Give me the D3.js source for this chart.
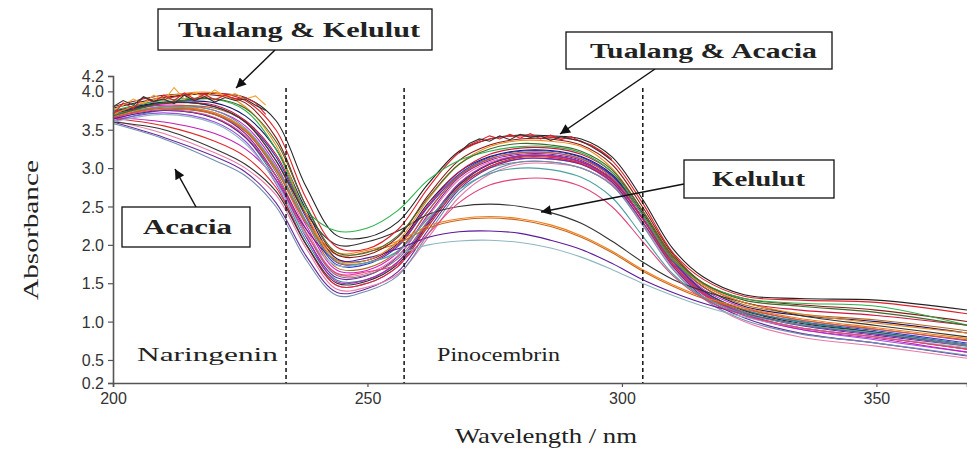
<!DOCTYPE html>
<html>
<head>
<meta charset="utf-8">
<script src="https://cdn.jsdelivr.net/npm/d3@7"></script>
<style>
  body { margin: 0; background: #fff; }
  .serif { font-family: 'Liberation Serif', 'Times New Roman', serif; }
  .sans { font-family: 'Liberation Sans', Arial, sans-serif; }
</style>
</head>
<body>
<div id="container"></div>
<script>
let w = 967;
let h = 457;

// wavelength grid (nm) that all spectra are sampled on
let wavelengths = [200, 210, 220, 226, 232, 238, 244, 250, 256, 262, 268, 274, 280, 286, 292, 298, 304, 310, 316, 324, 335, 350, 368];

// tualang-like spectra, high plateau and late drop
let highSpectra = [
  [3.78, 3.92, 3.97, 3.92, 3.62, 2.75, 2.12, 2.10, 2.30, 2.80, 3.22, 3.38, 3.43, 3.42, 3.38, 3.15, 2.60, 1.95, 1.58, 1.35, 1.30, 1.28, 1.15],
  [3.72, 3.90, 3.98, 3.88, 3.50, 2.60, 1.97, 1.95, 2.20, 2.75, 3.20, 3.38, 3.42, 3.40, 3.35, 3.10, 2.55, 1.90, 1.55, 1.33, 1.28, 1.25, 1.10],
  [3.80, 3.95, 3.95, 3.85, 3.40, 2.50, 1.87, 1.87, 2.10, 2.65, 3.10, 3.30, 3.38, 3.38, 3.30, 3.05, 2.50, 1.88, 1.50, 1.30, 1.22, 1.15, 1.00],
  [3.70, 3.93, 3.98, 3.80, 3.30, 2.40, 1.80, 1.80, 2.05, 2.60, 3.05, 3.28, 3.36, 3.35, 3.28, 3.00, 2.45, 1.85, 1.48, 1.25, 1.10, 0.98, 0.85],
  [3.75, 3.88, 3.90, 3.75, 3.25, 2.45, 2.18, 2.22, 2.45, 2.85, 3.10, 3.22, 3.28, 3.28, 3.20, 2.95, 2.40, 1.80, 1.50, 1.30, 1.24, 1.20, 0.95],
  [3.68, 3.85, 3.90, 3.78, 3.35, 2.50, 1.90, 1.90, 2.12, 2.62, 3.05, 3.25, 3.32, 3.30, 3.22, 2.98, 2.45, 1.85, 1.50, 1.28, 1.20, 1.12, 0.95]
];

// the big middle bundle
let midSpectra = [
  [3.70, 3.82, 3.75, 3.55, 3.05, 2.25, 1.67, 1.67, 1.90, 2.45, 2.90, 3.12, 3.20, 3.20, 3.12, 2.90, 2.40, 1.80, 1.42, 1.18, 1.02, 0.90, 0.75],
  [3.65, 3.80, 3.70, 3.45, 2.90, 2.10, 1.57, 1.60, 1.85, 2.40, 2.88, 3.10, 3.18, 3.18, 3.10, 2.85, 2.35, 1.75, 1.38, 1.12, 0.95, 0.82, 0.68],
  [3.72, 3.85, 3.80, 3.60, 3.15, 2.35, 1.74, 1.75, 1.98, 2.50, 2.92, 3.14, 3.22, 3.22, 3.14, 2.90, 2.40, 1.80, 1.40, 1.15, 1.00, 0.88, 0.72],
  [3.60, 3.75, 3.65, 3.40, 2.85, 2.05, 1.54, 1.55, 1.78, 2.30, 2.80, 3.05, 3.15, 3.16, 3.08, 2.85, 2.35, 1.78, 1.40, 1.15, 1.00, 0.86, 0.70],
  [3.68, 3.78, 3.72, 3.50, 3.00, 2.20, 1.62, 1.63, 1.86, 2.38, 2.85, 3.08, 3.16, 3.15, 3.06, 2.80, 2.30, 1.72, 1.35, 1.10, 0.92, 0.80, 0.64],
  [3.74, 3.86, 3.85, 3.68, 3.25, 2.45, 1.82, 1.80, 2.02, 2.55, 2.95, 3.15, 3.23, 3.23, 3.15, 2.92, 2.42, 1.82, 1.45, 1.20, 1.08, 1.00, 0.85],
  [3.66, 3.80, 3.78, 3.60, 3.10, 2.30, 1.70, 1.70, 1.92, 2.45, 2.90, 3.12, 3.20, 3.20, 3.12, 2.88, 2.40, 1.82, 1.45, 1.22, 1.10, 1.02, 0.88],
  [3.62, 3.72, 3.60, 3.35, 2.80, 2.00, 1.47, 1.50, 1.72, 2.25, 2.75, 3.02, 3.12, 3.12, 3.05, 2.82, 2.30, 1.72, 1.35, 1.08, 0.90, 0.76, 0.60],
  [3.70, 3.84, 3.82, 3.62, 3.18, 2.38, 1.77, 1.77, 2.00, 2.52, 2.95, 3.18, 3.26, 3.26, 3.18, 2.95, 2.45, 1.85, 1.48, 1.25, 1.15, 1.08, 0.95],
  [3.64, 3.76, 3.70, 3.48, 2.95, 2.15, 1.60, 1.61, 1.82, 2.32, 2.78, 3.00, 3.08, 3.08, 3.00, 2.78, 2.30, 1.75, 1.38, 1.12, 0.96, 0.84, 0.68]
];

// acacia-like spectra, early fall on the left
let acaciaSpectra = [
  [3.60, 3.40, 3.15, 2.95, 2.55, 1.85, 1.38, 1.43, 1.65, 2.20, 2.72, 3.00, 3.12, 3.12, 3.05, 2.82, 2.30, 1.72, 1.32, 1.05, 0.85, 0.72, 0.55],
  [3.62, 3.45, 3.20, 3.00, 2.65, 1.95, 1.42, 1.45, 1.62, 2.10, 2.62, 2.92, 3.05, 3.06, 3.00, 2.78, 2.28, 1.70, 1.30, 1.00, 0.80, 0.68, 0.52],
  [3.58, 3.38, 3.10, 2.90, 2.50, 1.80, 1.34, 1.40, 1.60, 2.15, 2.68, 2.95, 3.08, 3.08, 3.00, 2.78, 2.26, 1.68, 1.30, 1.02, 0.84, 0.72, 0.56],
  [3.65, 3.55, 3.35, 3.15, 2.75, 2.00, 1.47, 1.50, 1.72, 2.25, 2.75, 3.02, 3.14, 3.14, 3.06, 2.84, 2.34, 1.75, 1.36, 1.10, 0.92, 0.80, 0.64],
  [3.60, 3.50, 3.25, 3.05, 2.70, 2.00, 1.50, 1.53, 1.75, 2.28, 2.78, 3.05, 3.16, 3.16, 3.08, 2.86, 2.36, 1.78, 1.40, 1.14, 0.98, 0.86, 0.70],
  [3.66, 3.60, 3.45, 3.25, 2.85, 2.10, 1.52, 1.55, 1.78, 2.30, 2.80, 3.06, 3.16, 3.16, 3.08, 2.86, 2.36, 1.78, 1.38, 1.10, 0.90, 0.78, 0.60]
];

// kelulut-like spectra, low and early second band
let kelulutSpectra = [
  [3.70, 3.85, 3.80, 3.60, 3.10, 2.40, 2.00, 2.04, 2.18, 2.40, 2.50, 2.53, 2.50, 2.42, 2.28, 2.05, 1.78, 1.55, 1.40, 1.25, 1.08, 0.95, 0.80],
  [3.68, 3.80, 3.72, 3.50, 3.00, 2.30, 1.90, 1.93, 2.05, 2.25, 2.34, 2.37, 2.34, 2.26, 2.12, 1.92, 1.68, 1.48, 1.32, 1.18, 1.04, 0.92, 0.78],
  [3.66, 3.78, 3.70, 3.48, 2.98, 2.28, 1.87, 1.91, 2.02, 2.22, 2.32, 2.35, 2.32, 2.24, 2.10, 1.90, 1.66, 1.46, 1.30, 1.16, 1.02, 0.90, 0.76],
  [3.64, 3.75, 3.65, 3.40, 2.90, 2.20, 1.80, 1.83, 1.95, 2.10, 2.17, 2.18, 2.15, 2.06, 1.94, 1.76, 1.55, 1.38, 1.24, 1.10, 0.96, 0.84, 0.70],
  [3.60, 3.70, 3.58, 3.32, 2.82, 2.12, 1.73, 1.77, 1.88, 2.00, 2.05, 2.06, 2.03, 1.96, 1.84, 1.68, 1.50, 1.34, 1.20, 1.06, 0.92, 0.80, 0.66],
  [3.66, 3.76, 3.66, 3.42, 2.90, 2.15, 1.63, 1.65, 1.75, 2.15, 2.55, 2.78, 2.86, 2.86, 2.76, 2.50, 2.05, 1.60, 1.30, 1.08, 0.92, 0.80, 0.64],
  [3.70, 3.80, 3.75, 3.52, 3.02, 2.30, 1.78, 1.77, 1.92, 2.35, 2.72, 2.93, 3.00, 2.98, 2.88, 2.62, 2.12, 1.62, 1.32, 1.10, 0.96, 0.85, 0.70]
];

// noisy top edge of the two bands, sampled every 2 nm
let plateauWl = [200, 202, 204, 206, 208, 210, 212, 214, 216, 218, 220, 222, 224, 226, 228, 230];
let plateauNoise = [
  [3.76, 3.82, 3.90, 3.84, 3.95, 3.88, 4.05, 3.90, 3.98, 3.92, 4.02, 3.93, 3.97, 3.90, 3.94, 3.82],
  [3.70, 3.85, 3.78, 3.92, 3.86, 3.95, 3.88, 3.98, 3.90, 3.96, 3.89, 3.95, 3.90, 3.92, 3.85, 3.70],
  [3.80, 3.88, 3.82, 3.93, 3.87, 3.90, 3.84, 3.95, 3.88, 3.93, 3.86, 3.92, 3.88, 3.90, 3.82, 3.75]
];
let peakWl = [268, 270, 272, 274, 276, 278, 280, 282, 284, 286, 288, 290, 292, 294, 296, 298];
let peakNoise = [
  [3.22, 3.30, 3.36, 3.42, 3.38, 3.44, 3.39, 3.45, 3.38, 3.43, 3.37, 3.41, 3.34, 3.30, 3.22, 3.12],
  [3.20, 3.32, 3.38, 3.35, 3.42, 3.37, 3.44, 3.40, 3.42, 3.36, 3.41, 3.38, 3.35, 3.28, 3.20, 3.10]
];

let highColors = ['#222222', '#e0202a', '#8b1a1a', '#f08a1c', '#2bb24a', '#3d6b2a'];
let midColors = ['#d21fd2', '#7a1fa8', '#2a3fd0', '#1f8f8f', '#f06aa0', '#1a1a6e', '#b5651d', '#9b4fe0', '#d4143c', '#777777'];
let acaciaColors = ['#6a2a9a', '#e87aa8', '#6f8fb0', '#e02828', '#333333', '#c21fb8'];
let kelulutColors = ['#333333', '#f07d1a', '#c8661a', '#5a1a9a', '#8fb7c0', '#e0457a', '#4fa0a0'];
let plateauColors = ['#f0a030', '#e0202a', '#333333'];
let peakColors = ['#e0202a', '#333333'];

// dashed separators between the bands
let bandEdges = [234, 257.2, 304.1];
let xTicks = [200, 250, 300, 350];
let yTicks = [0.2, 0.5, 1.0, 1.5, 2.0, 2.5, 3.0, 3.5, 4.0, 4.2];

let x = d3.scaleLinear().domain([200, 367.8]).range([113, 967]);
let y = d3.scaleLinear().domain([0.2, 4.2]).range([383, 76]);

let viz = d3.select('#container').append('svg')
    .attr('width', w)
    .attr('height', h)
;

function lineOn(grid, curve) {
  return d3.line()
    .x((d, i) => x(grid[i]))
    .y(d => y(d))
    .curve(curve);
}

let smooth = d3.curveCatmullRom.alpha(0.5);

let groups = [
  [midSpectra, midColors, wavelengths, smooth],
  [acaciaSpectra, acaciaColors, wavelengths, smooth],
  [kelulutSpectra, kelulutColors, wavelengths, smooth],
  [highSpectra, highColors, wavelengths, smooth],
  [plateauNoise, plateauColors, plateauWl, d3.curveLinear],
  [peakNoise, peakColors, peakWl, d3.curveLinear]
];

groups.forEach(g => {
  viz.append('g').selectAll('path')
    .data(g[0])
    .join('path')
    .attr('d', lineOn(g[2], g[3]))
    .attr('fill', 'none')
    .attr('stroke', (d, i) => g[1][i])
    .attr('stroke-width', 1.1);
});

// axes
let xAxis = viz.append('g')
    .attr('transform', 'translate(0,383)')
    .call(d3.axisBottom(x).tickValues(xTicks).tickSize(4).tickFormat(d3.format('d')));

let yAxis = viz.append('g')
    .attr('transform', 'translate(113,0)')
    .call(d3.axisLeft(y).tickValues(yTicks).tickSize(5).tickFormat(d3.format('.1f')));

[xAxis, yAxis].forEach(a => {
  a.attr('font-family', null);
  a.select('.domain').attr('stroke', '#555').attr('stroke-width', 1.6);
  a.selectAll('.tick line').attr('stroke', '#555').attr('stroke-width', 1.2);
  a.selectAll('.tick text')
    .attr('fill', '#333')
    .attr('class', 'sans')
    .attr('font-size', '16px');
});
xAxis.selectAll('.tick text').attr('dy', '0.9em');
yAxis.selectAll('.tick text').attr('dx', '-1').attr('dy', '0.35em');

// band separators
viz.append('g').selectAll('line')
    .data(bandEdges)
    .join('line')
    .attr('x1', d => x(d))
    .attr('x2', d => x(d))
    .attr('y1', 88)
    .attr('y2', 383)
    .attr('stroke', '#111')
    .attr('stroke-width', 1.5)
    .attr('stroke-dasharray', '4,3');

// axis titles
viz.append('text')
    .text('Absorbance')
    .attr('class', 'serif')
    .attr('transform', 'translate(38,230) rotate(-90)')
    .attr('text-anchor', 'middle')
    .attr('font-size', '21px')
    .attr('fill', '#222')
    .attr('textLength', 140)
    .attr('lengthAdjust', 'spacingAndGlyphs');

viz.append('text')
    .text('Wavelength / nm')
    .attr('class', 'serif')
    .attr('x', 455)
    .attr('y', 443)
    .attr('font-size', '21px')
    .attr('fill', '#222')
    .attr('textLength', 182)
    .attr('lengthAdjust', 'spacingAndGlyphs');

// band names
viz.append('text')
    .text('Naringenin')
    .attr('class', 'serif')
    .attr('x', 137)
    .attr('y', 361)
    .attr('font-size', '18px')
    .attr('fill', '#222')
    .attr('textLength', 141)
    .attr('lengthAdjust', 'spacingAndGlyphs');

viz.append('text')
    .text('Pinocembrin')
    .attr('class', 'serif')
    .attr('x', 437)
    .attr('y', 361)
    .attr('font-size', '18px')
    .attr('fill', '#222')
    .attr('textLength', 123)
    .attr('lengthAdjust', 'spacingAndGlyphs');

// arrow head
viz.append('defs').append('marker')
    .attr('id', 'head')
    .attr('viewBox', '0 0 10 10')
    .attr('refX', 10)
    .attr('refY', 5)
    .attr('markerWidth', 14)
    .attr('markerHeight', 10)
    .attr('markerUnits', 'userSpaceOnUse')
    .attr('orient', 'auto')
    .append('path')
    .attr('d', 'M0,0 L10,5 L0,10 Z')
    .attr('fill', '#111');

// callouts: box, label, arrow
function callout(bx, by, bw, bh, label, tx, tw, ax1, ay1, ax2, ay2) {
  viz.append('line')
      .attr('x1', ax1).attr('y1', ay1)
      .attr('x2', ax2).attr('y2', ay2)
      .attr('stroke', '#111')
      .attr('stroke-width', 1.5)
      .attr('marker-end', 'url(#head)');
  viz.append('rect')
      .attr('x', bx).attr('y', by)
      .attr('width', bw).attr('height', bh)
      .attr('fill', 'white')
      .attr('stroke', '#111')
      .attr('stroke-width', 1.3);
  viz.append('text')
      .text(label)
      .attr('class', 'serif')
      .attr('x', tx)
      .attr('y', by + bh / 2 + 7)
      .attr('font-weight', 'bold')
      .attr('font-size', '20px')
      .attr('fill', '#222')
      .attr('textLength', tw)
      .attr('lengthAdjust', 'spacingAndGlyphs');
}

callout(158, 9, 274, 41, 'Tualang & Kelulut', 178, 242, 275, 50, 236, 88);
callout(566, 32, 266, 37, 'Tualang & Acacia', 590, 227, 655, 69, 560, 134);
callout(684, 160, 150, 38, 'Kelulut', 712, 93, 684, 184, 541, 212);
callout(122, 207, 128, 40, 'Acacia', 143, 89, 196, 207, 175, 169);
</script>
</body>
</html>
